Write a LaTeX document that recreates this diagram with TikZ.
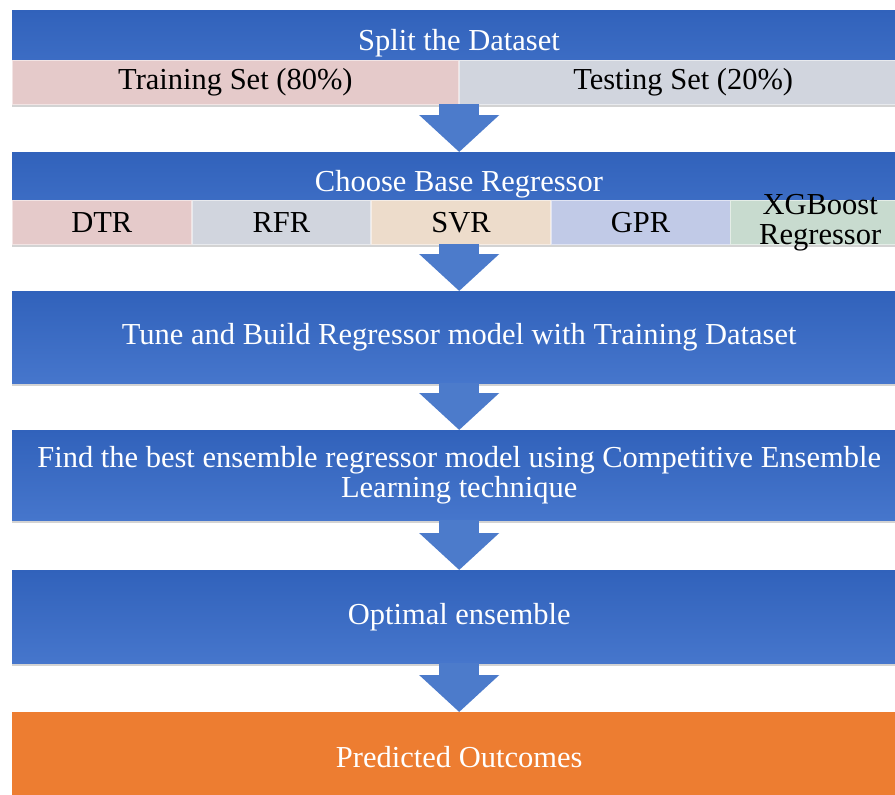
\documentclass[tikz,border=0pt]{standalone}
\usepackage{fontspec}
\setmainfont{Liberation Serif}
\usepackage{tikz}
\usetikzlibrary{arrows.meta, positioning, shadows, calc}
\definecolor{StageTop}{HTML}{3162BB}
\definecolor{StageBottom}{HTML}{4676CC}
\definecolor{FlowBlue}{HTML}{4C7BCB}
\definecolor{OutcomeOrange}{HTML}{ED7D31}
\definecolor{CellPink}{HTML}{E5CACA}
\definecolor{CellGrey}{HTML}{D1D5DE}
\definecolor{CellTan}{HTML}{EDDCCB}
\definecolor{CellLilac}{HTML}{C1CAE7}
\definecolor{CellSage}{HTML}{C8DBCF}
\newcommand{\stagefont}{\fontsize{30.5}{30}\selectfont}
\tikzset{
    % Wide stage boxes
    stage base/.style={
        rectangle,
        draw=none,
        inner sep=0pt,
        minimum width=894pt,
        anchor=north west,
        align=center,
        text=white,
        font=\stagefont,
        drop shadow={opacity=0.35, shadow xshift=0pt, shadow yshift=-3pt}
    },
    stage/.style={
        stage base,
        top color=StageTop,
        bottom color=StageBottom
    },
    stage orange/.style={
        stage base,
        fill=OutcomeOrange
    },
    stage label/.style={
        inner sep=0pt,
        text=white,
        font=\stagefont
    },
    % Cells of the lower row
    cell/.style={
        rectangle,
        inner xsep=0pt,
        inner ysep=-8pt,
        minimum height=44pt,
        anchor=north west,
        align=center,
        text=black,
        font=\stagefont,
        line width=0.8pt
    },
    cell pink/.style={cell, fill=CellPink, draw=CellPink!50!white},
    cell grey/.style={cell, fill=CellGrey, draw=CellGrey!50!white},
    cell tan/.style={cell, fill=CellTan, draw=CellTan!50!white},
    cell lilac/.style={cell, fill=CellLilac, draw=CellLilac!50!white},
    cell sage/.style={cell, fill=CellSage, draw=CellSage!50!white},
    flow arrow/.style={
        draw=FlowBlue,
        line width=40pt,
        -{Triangle[width=78pt, length=37pt]}
    }
}

\begin{document}
\begin{tikzpicture}[x=1pt, y=-1pt]
        \useasboundingbox (0,0) rectangle (895,795);

        % Split the dataset
        \node[stage, minimum height=94pt] (split) at (12,10) {};
        \node[stage label] (splittext) at (459,43) {Split the Dataset};
        \node[cell pink, minimum width=446pt] (train) at (12,60) {Training Set (80\%)};
        \node[cell grey, minimum width=448pt] (test) at (train.north east) {Testing Set (20\%)};

        % Base regressors
        \node[stage, minimum height=92pt] (choose) at (12,152) {};
        \node[stage label] (choosetext) at (459,184) {Choose Base Regressor};
        \node[cell pink, minimum width=178.8pt] (dtr) at (12,200) {DTR};
        \node[cell grey, minimum width=178.8pt] (rfr) at (dtr.north east) {RFR};
        \node[cell tan, minimum width=178.8pt] (svr) at (rfr.north east) {SVR};
        \node[cell lilac, minimum width=178.8pt] (gpr) at (svr.north east) {GPR};
        \node[cell sage, minimum width=178.8pt] (xgb) at (gpr.north east) {\fontsize{30.5}{29}\selectfont XGBoost\\Regressor};

        % Later stages
        \node[stage, minimum height=92pt] (tune) at (12,291) {Tune and Build Regressor model with Training Dataset};
        \node[stage, minimum height=90pt] (best) at (12,430) {Find the best ensemble regressor model using Competitive Ensemble\\Learning technique};
        \node[stage, minimum height=93pt] (optimal) at (12,570) {Optimal ensemble};
        \node[stage orange, minimum height=90pt] (outcome) at (12,712) {Predicted Outcomes};

        \draw[flow arrow] (split.south) -- (choose.north);
        \draw[flow arrow] (choose.south) -- (tune.north);
        \draw[flow arrow] (tune.south) -- (best.north);
        \draw[flow arrow] (best.south) -- (optimal.north);
        \draw[flow arrow] (optimal.south) -- (outcome.north);
    \end{tikzpicture}
\end{document}
